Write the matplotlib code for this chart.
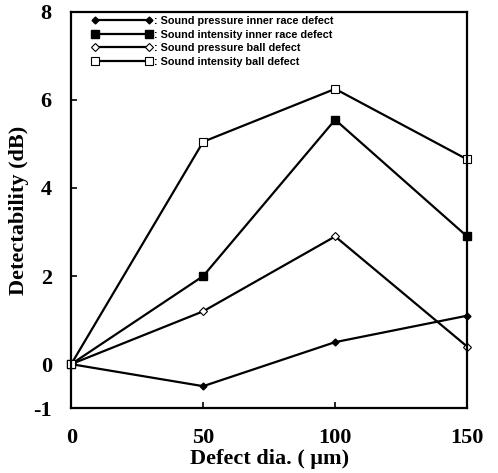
import matplotlib.pyplot as plt

# defect diameters (um) and detectability values (dB)
defect_dia = [0, 50, 100, 150]
pressure_inner = [0, -0.5, 0.5, 1.1]
intensity_inner = [0, 2.0, 5.55, 2.9]
pressure_ball = [0, 1.2, 2.9, 0.4]
intensity_ball = [0, 5.05, 6.25, 4.65]

labels = [': Sound pressure inner race defect',
          ': Sound intensity inner race defect',
          ': Sound pressure ball defect',
          ': Sound intensity ball defect']

plt.rcParams['axes.unicode_minus'] = False

fig = plt.figure(figsize=(4.98, 4.73), dpi=100)
ax = fig.add_axes([0.143, 0.137, 0.795, 0.838])

ax.plot(defect_dia, pressure_inner, color='black', lw=1.6, marker='D', ms=3.5,
        mfc='black', mec='black', label=labels[0], clip_on=False)
ax.plot(defect_dia, intensity_inner, color='black', lw=1.6, marker='s', ms=6,
        mfc='black', mec='black', label=labels[1], clip_on=False)
ax.plot(defect_dia, pressure_ball, color='black', lw=1.6, marker='D', ms=4,
        mfc='white', mec='black', mew=0.8, label=labels[2], clip_on=False)
ax.plot(defect_dia, intensity_ball, color='black', lw=1.6, marker='s', ms=5.5,
        mfc='white', mec='black', mew=0.8, label=labels[3], clip_on=False)

ax.set_xlim(0, 150)
ax.set_ylim(-1, 8)
ax.set_xticks([0, 50, 100, 150])
ax.set_yticks([-1, 0, 2, 4, 6, 8])

for s in ax.spines.values():
    s.set_linewidth(1.6)

ax.tick_params(direction='in', length=4, width=1.2, pad=14)
tick_font = {'family': 'Liberation Serif', 'weight': 'bold', 'size': 16}
for lab in ax.get_xticklabels() + ax.get_yticklabels():
    lab.set_fontfamily('Liberation Serif')
    lab.set_fontweight('bold')
    lab.set_fontsize(16)

ax.set_xlabel('Defect dia. ( μm)', fontdict=tick_font, labelpad=1)
ax.set_ylabel('Detectability (dB)', fontdict=tick_font, labelpad=3)

leg = ax.legend(loc='upper left', bbox_to_anchor=(0.04, 1.0), frameon=False,
                numpoints=2, handlelength=5.6, handletextpad=0.15,
                labelspacing=0.32, borderaxespad=0.0,
                prop={'family': 'Liberation Sans', 'weight': 'bold', 'size': 7.8})

fig.savefig('out.png', dpi=100)
